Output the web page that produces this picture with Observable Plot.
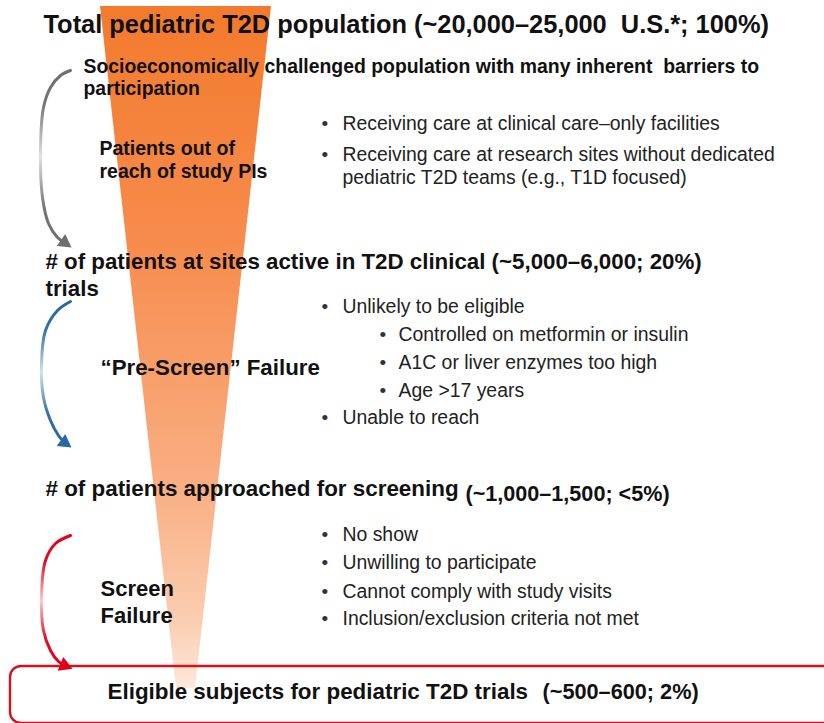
<!DOCTYPE html>
<html>
<head>
<meta charset="utf-8">
<script src="https://cdn.jsdelivr.net/npm/d3@7"></script>
<script src="https://cdn.jsdelivr.net/npm/@observablehq/plot@0.6"></script>
<style>
html, body { margin: 0; padding: 0; background: #fff; overflow: hidden; }
#chart svg { display: block; overflow: hidden; }
</style>
</head>
<body>
<div id="chart"></div>
<script>
// ---------------- data (content) ----------------
const headingLines = [
  "Total pediatric T2D population (~20,000–25,000  U.S.*; 100%)",
  "Socioeconomically challenged population with many inherent  barriers to",
  "participation",
  "# of patients at sites active in T2D clinical (~5,000–6,000; 20%)",
  "trials",
  "# of patients approached for screening",
  "(~1,000–1,500; <5%)",
  "Eligible subjects for pediatric T2D trials",
  "(~500–600; 2%)"
];
const failureLabels = [
  "Patients out of",
  "reach of study PIs",
  "“Pre-Screen” Failure",
  "Screen",
  "Failure"
];
const bulletTexts = [
  "Receiving care at clinical care–only facilities",
  "Receiving care at research sites without dedicated",
  "pediatric T2D teams (e.g., T1D focused)",
  "Unlikely to be eligible",
  "Controlled on metformin or insulin",
  "A1C or liver enzymes too high",
  "Age >17 years",
  "Unable to reach",
  "No show",
  "Unwilling to participate",
  "Cannot comply with study visits",
  "Inclusion/exclusion criteria not met"
];
const bulletLevel = [1, 1, 1, 1, 2, 2, 2, 1, 1, 1, 1, 1];
const bulletMarked = [true, true, false, true, true, true, true, true, true, true, true, true];

// ---------------- layout (positions / sizes) ----------------
const headingX = [43, 83, 83, 45, 45, 45, 465, 107, 542];
const headingY = [32, 72, 94, 268, 295, 495, 500, 698, 698];
const headingSize = [25.4, 19.4, 19.4, 22.3, 22.3, 22.4, 21.6, 22.4, 21.7];

const failureX = [99, 99, 100, 100, 100];
const failureY = [154, 177, 374, 595, 622];
const failureSize = [19.5, 19.5, 22.3, 22, 22];

const bulletY = [129, 160, 183, 312, 340, 368, 396, 423, 540, 568, 597, 624];
const bulletTextX = {1: 342, 2: 398};
const bulletDotX = {1: 321, 2: 379};

// funnel outline (top edge and faded tip)
const funnelY = [6, 688];
const funnelLeft = [100, 176];
const funnelRight = [271, 195];

// curved arrows: traced path points, head direction, colour
const arrowPaths = [
  [[70, 70], [60, 75], [50, 87], [43, 107], [40, 150], [42, 197], [48, 223], [57, 237], [64, 242]],
  [[70, 301], [57, 310], [45, 330], [41, 363], [43, 397], [50, 420], [58, 435], [64, 442]],
  [[70, 535], [55, 543], [45, 560], [41, 597], [43, 630], [50, 650], [58, 661], [64, 665]]
];
const arrowHeadAngle = [125, 125, 112];
const arrowColor = ["#6E6E6E", "#2767A6", "#E0001A"];
const arrowGrad = ["gradGray", "gradBlue", "gradRed"];

// eligible box
const boxEdges = {x1: 10, x2: 834, y1: 666, y2: 723};

// ---------------- tables ----------------
const FONT = '"Liberation Sans", Arial, Helvetica, sans-serif';
const headings = headingLines.map((t, i) => ({t, x: headingX[i], y: headingY[i], s: headingSize[i]}));
const failures = failureLabels.map((t, i) => ({t, x: failureX[i], y: failureY[i], s: failureSize[i]}));
const bullets = bulletTexts.map((t, i) => ({t, lvl: bulletLevel[i], mark: bulletMarked[i], y: bulletY[i]}));
const funnel = funnelY.map((y, i) => ({y, x1: funnelLeft[i], x2: funnelRight[i]}));

const arrowMarks = arrowPaths.flatMap((pts, i) => {
  const rows = pts.map(([x, y]) => ({x, y}));
  const end = rows[rows.length - 1];
  return [
    Plot.line(rows, {x: "x", y: "y", curve: "catmull-rom", stroke: `url(#${arrowGrad[i]})`, strokeWidth: 3}),
    Plot.dot([end], {x: "x", y: "y", symbol: "triangle", r: 5.5, fill: arrowColor[i], stroke: "none", rotate: arrowHeadAngle[i]})
  ];
});

const marks = [
  Plot.areaX(funnel, {y: "y", x1: "x1", x2: "x2", fill: "url(#funnelGrad)"}),
  Plot.rect([boxEdges], {x1: "x1", x2: "x2", y1: "y1", y2: "y2", fill: "none", stroke: "#D3131B", strokeWidth: 2.4, rx: 11}),
  ...arrowMarks,
  ...headings.map(h => Plot.text([h], {
    x: "x", y: "y", text: "t", textAnchor: "start", lineAnchor: "bottom",
    fontSize: h.s, fontWeight: "bold", fontFamily: FONT, fill: "#111"
  })),
  ...failures.map(h => Plot.text([h], {
    x: "x", y: "y", text: "t", textAnchor: "start", lineAnchor: "bottom",
    fontSize: h.s, fontWeight: "bold", fontFamily: FONT, fill: "#111"
  })),
  Plot.text(bullets, {
    x: d => bulletTextX[d.lvl], y: "y", text: "t", textAnchor: "start", lineAnchor: "bottom",
    fontSize: 19.4, fontFamily: FONT, fill: "#222"
  }),
  Plot.text(bullets.filter(d => d.mark), {
    x: d => bulletDotX[d.lvl], y: "y", text: () => "•", textAnchor: "start", lineAnchor: "bottom",
    fontSize: 19, fontFamily: FONT, fill: "#333"
  })
];

const svg = Plot.plot({
  width: 824,
  height: 723,
  margin: 0,
  style: {background: "#fff", fontFamily: FONT},
  x: {domain: [0, 824], range: [0, 824], axis: null},
  y: {domain: [0, 723], range: [0, 723], axis: null},
  marks
});

// gradient definitions
const defs = d3.select(svg).insert("defs", ":first-child");
const fg = defs.append("linearGradient").attr("id", "funnelGrad")
  .attr("x1", 0).attr("y1", 0).attr("x2", 0).attr("y2", 1);
[[0, "#F37A2C"], [0.35, "#F78C4D"], [0.7, "#F9AE82"], [0.9, "#FBCDB0"], [1, "#FDE8DB"]]
  .forEach(([o, c]) => fg.append("stop").attr("offset", o).attr("stop-color", c));
arrowGrad.forEach((id, i) => {
  const g = defs.append("linearGradient").attr("id", id)
    .attr("x1", 0).attr("y1", 0).attr("x2", 0).attr("y2", 1);
  [[0, 1], [0.2, 0.95], [0.5, 0.2], [0.8, 0.95], [1, 1]]
    .forEach(([o, op]) => g.append("stop").attr("offset", o).attr("stop-color", arrowColor[i]).attr("stop-opacity", op));
});

document.getElementById("chart").appendChild(svg);
</script>
</body>
</html>
